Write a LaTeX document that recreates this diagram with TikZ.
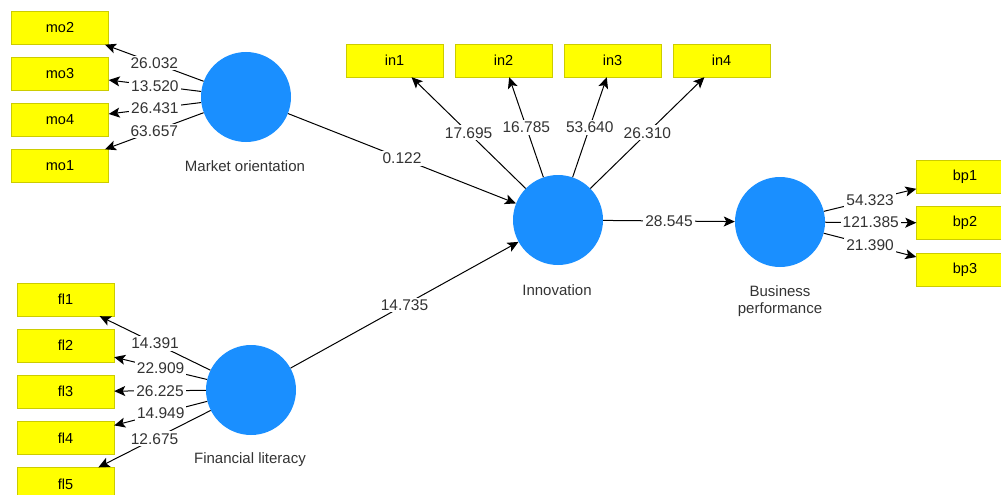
\documentclass[tikz,border=0pt]{standalone}
\usepackage{fontspec}
\setmainfont{Liberation Sans}
\usepackage{tikz}
\usetikzlibrary{arrows.meta,positioning}
\definecolor{LvBlue}{RGB}{26,143,255}
\definecolor{MvYellow}{RGB}{255,255,0}
\definecolor{MvBorder}{RGB}{204,204,0}
\definecolor{TxtGray}{RGB}{51,51,51}

\begin{document}
\begin{tikzpicture}[x=1pt, y=-1pt,
	lv/.style={circle, fill=LvBlue, minimum size=90pt, inner sep=0pt},
	mv/.style={rectangle, fill=MvYellow, draw=MvBorder, minimum width=97pt, minimum height=33pt, inner sep=0pt, font=\fontsize{14.5}{16}\selectfont},
	lvname/.style={text=TxtGray, font=\fontsize{15}{17}\selectfont, align=center},
	pathlink/.style={-{Stealth[length=11pt, width=10pt, inset=2.5pt]}, line width=1pt},
	wt/.style={fill=white, inner sep=2pt, text=TxtGray, font=\fontsize{15.5}{17}\selectfont}]
				\useasboundingbox (0,0) rectangle (1001,495);
				% latent variables
				\node[lv] (mo) at (246,97) {};
				\node[lv] (fl) at (251,390) {};
				\node[lv] (inn) at (558,220) {};
				\node[lv] (bp) at (780,222) {};
				\node[lvname] (molab) at (245,166) {Market orientation};
				\node[lvname] (fllab) at (250,460) {Financial literacy};
				\node[lvname] (innlab) at (557,290) {Innovation};
				\node[lvname] (bplab) at (780,301) {Business\\performance};
				% indicators
				\foreach \n/\y in {mo2/28, mo3/74, mo4/120, mo1/166}
					\node[mv] (\n) at (60,\y) {\n};
				\foreach \n/\y in {fl1/299.5, fl2/345.5, fl3/391.5, fl4/438, fl5/484}
					\node[mv] (\n) at (65.5,\y) {\n};
				\foreach \n/\x in {in1/394.5, in2/503.5, in3/612.5, in4/721.5}
					\node[mv] (\n) at (\x,60.5) {\n};
				\foreach \n/\y in {bp1/177, bp2/223, bp3/269.5}
					\node[mv] (\n) at (965,\y) {\n};
				% outer model
				\foreach \n/\w in {mo2/26.032, mo3/13.520, mo4/26.431, mo1/63.657}
					\draw[pathlink] (mo) -- node[wt] (w-\n) {\w} (\n);
				\foreach \n/\w in {fl1/14.391, fl2/22.909, fl3/26.225, fl4/14.949, fl5/12.675}
					\draw[pathlink] (fl) -- node[wt] (w-\n) {\w} (\n);
				\foreach \n/\w in {in1/17.695, in2/16.785, in3/53.640, in4/26.310}
					\draw[pathlink] (inn) -- node[wt] (w-\n) {\w} (\n);
				\foreach \n/\w in {bp1/54.323, bp2/121.385, bp3/21.390}
					\draw[pathlink] (bp) -- node[wt] (w-\n) {\w} (\n);
				% inner model
				\draw[pathlink] (mo) -- node[wt] (w-mo-inn) {0.122} (inn);
				\draw[pathlink] (fl) -- node[wt] (w-fl-inn) {14.735} (inn);
				\draw[pathlink] (inn) -- node[wt] (w-inn-bp) {28.545} (bp);
			\end{tikzpicture}
\end{document}
